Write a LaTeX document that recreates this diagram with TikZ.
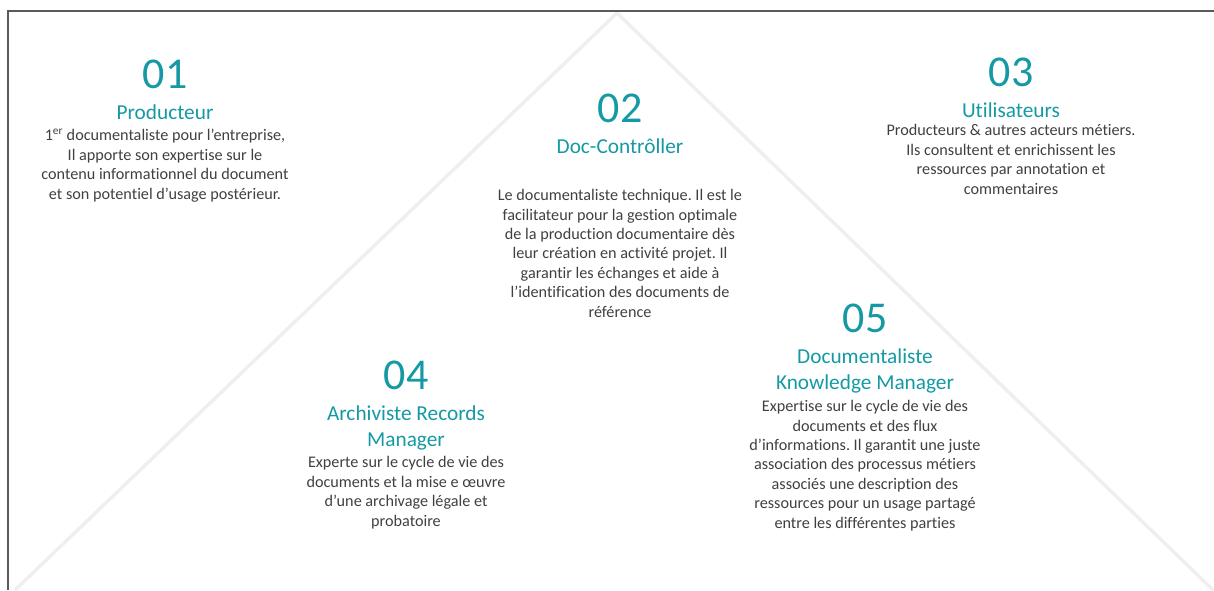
\documentclass[tikz,border=0pt]{standalone}
\usepackage{fontspec}
\setmainfont{Carlito}[Ligatures=NoCommon]
\usepackage{xcolor}
\usetikzlibrary{positioning}
\definecolor{sarcelle}{HTML}{1599A4}
\definecolor{gris}{HTML}{404040}
\definecolor{cadre}{HTML}{5A5A5A}
\definecolor{grisclair}{HTML}{EFEFEF}
\frenchspacing

\begin{document}
\begin{tikzpicture}[x=1pt, y=-1pt,
  numero/.style={anchor=base, inner sep=0pt, text=sarcelle, font=\fontsize{44}{50}\selectfont},
  titre/.style={anchor=base, inner sep=0pt, align=center, text=sarcelle, font=\fontsize{21.3}{26}\selectfont},
  texte/.style={anchor=base, inner sep=0pt, align=center, text=gris, font=\fontsize{16.2}{19.4}\selectfont},
  bord/.style={draw=cadre, line width=1.5pt},
  pente/.style={draw=grisclair, line width=3.5pt}
]
  \useasboundingbox (0,0) rectangle (1214,590);
  % cadre et pyramide
  \draw[pente] (15,590) -- (617,13) -- (1213,590);
  \draw[bord] (8,590) -- (8,11) -- (1214,11);

  % 01 (base = ligne du bas)
  \node[numero] (n1) at (165,88) {01};
  \node[titre]  (t1) at (165,119) {Producteur};
  \node[texte]  (d1) at (165,199) {1\textsuperscript{er} documentaliste pour l’entreprise,\\Il apporte son expertise sur le\\contenu informationnel du document\\et son potentiel d’usage postérieur.};

  % 02
  \node[numero] (n2) at (620,122) {02};
  \node[titre]  (t2) at (620,153) {Doc-Contrôller};
  \node[texte]  (d2) at (620,317) {Le documentaliste technique. Il est le\\facilitateur pour la gestion optimale\\de la production documentaire dès\\leur création en activité projet. Il\\garantir les échanges et aide à\\l’identification des documents de\\référence};

  % 03
  \node[numero] (n3) at (1011,86) {03};
  \node[titre]  (t3) at (1011,117) {Utilisateurs};
  \node[texte]  (d3) at (1011,194) {Producteurs \& autres acteurs métiers.\\Ils consultent et enrichissent les\\ressources par annotation et\\commentaires};

  % 04
  \node[numero] (n4) at (406,389) {04};
  \node[titre]  (t4) at (406,446) {Archiviste Records\\Manager};
  \node[texte]  (d4) at (406,526) {Experte sur le cycle de vie des\\documents et la mise e œuvre\\d’une archivage légale et\\probatoire};

  % 05
  \node[numero] (n5) at (865,332) {05};
  \node[titre]  (t5) at (865,389) {Documentaliste\\Knowledge Manager};
  \node[texte]  (d5) at (865,528) {Expertise sur le cycle de vie des\\documents et des flux\\d’informations. Il garantit une juste\\association des processus métiers\\associés une description des\\ressources pour un usage partagé\\entre les différentes parties};
\end{tikzpicture}
\end{document}
